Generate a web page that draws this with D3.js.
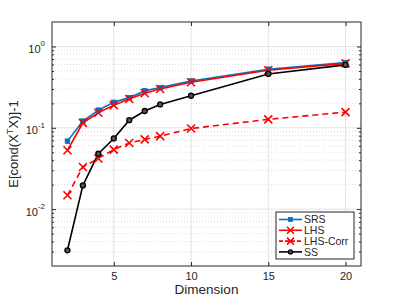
<!DOCTYPE html>
<html>
<head>
<meta charset="utf-8">
<script src="https://cdn.jsdelivr.net/npm/d3@7"></script>
<style>
  body { margin: 0; background: #fff; }
  svg text { font-family: "Liberation Sans", Arial, sans-serif; fill: #262626; }
</style>
</head>
<body>
<div id="chart"></div>
<script>
// data
var dims = [2, 3, 4, 5, 6, 7, 8, 10, 15, 20]
var srs = [0.0686, 0.121, 0.165, 0.206, 0.235, 0.285, 0.312, 0.377, 0.526, 0.635]
var lhs = [0.053, 0.115, 0.153, 0.19, 0.226, 0.266, 0.30, 0.363, 0.51, 0.62]
var lhsCorr = [0.0148, 0.033, 0.042, 0.054, 0.065, 0.072, 0.079, 0.098, 0.127, 0.156]
var ss = [0.00312, 0.0196, 0.048, 0.074, 0.124, 0.161, 0.194, 0.248, 0.46, 0.594]
var xTicks = [5, 10, 15, 20]
var yTicks = [1, 0.1, 0.01]
var yTickExp = ["0", "-1", "-2"]

var series = [
  { name: "SRS", values: srs, color: "#0072BD", marker: "square", dash: null },
  { name: "LHS", values: lhs, color: "#FF0000", marker: "x", dash: null },
  { name: "LHS-Corr", values: lhsCorr, color: "#FF0000", marker: "x", dash: "6,4" },
  { name: "SS", values: ss, color: "#000000", marker: "circle", dash: null }
]

var W = 399, H = 299
var margin = { top: 22, right: 38, bottom: 33, left: 52 }
var w = W - margin.left - margin.right
var h = H - margin.top - margin.bottom

var svg = d3.select('#chart').append('svg')
  .attr('width', W).attr('height', H)
var g = svg.append('g')
  .attr('transform', 'translate(' + margin.left + ',' + margin.top + ')')

var x = d3.scaleLinear().domain([1, 21]).range([0, w])
var y = d3.scaleLog().domain([0.002, 2]).range([h, 0])

// minor values for the log axis
var minor = []
;[0.001, 0.01, 0.1, 1].forEach(function (d) {
  for (var k = 2; k <= 9; k++) {
    var v = d * k
    if (v > 0.002 && v < 2) minor.push(v)
  }
})

// grid
g.selectAll('line.ymin').data(minor).enter().append('line')
  .attr('x1', 0).attr('x2', w)
  .attr('y1', d => y(d)).attr('y2', d => y(d))
  .attr('stroke', '#d4d4d4').attr('stroke-dasharray', '1,2').attr('stroke-width', 0.8)
g.selectAll('line.ymaj').data(yTicks).enter().append('line')
  .attr('x1', 0).attr('x2', w)
  .attr('y1', d => y(d)).attr('y2', d => y(d))
  .attr('stroke', '#e3e3e3').attr('stroke-width', 1)
g.selectAll('line.xmaj').data(xTicks).enter().append('line')
  .attr('x1', d => x(d)).attr('x2', d => x(d))
  .attr('y1', 0).attr('y2', h)
  .attr('stroke', '#e3e3e3').attr('stroke-width', 1)

// axes with inward ticks
var axCol = '#262626'
var xAxis = g.append('g').attr('transform', 'translate(0,' + h + ')')
  .call(d3.axisBottom(x).tickValues(xTicks).tickSizeInner(-4).tickSizeOuter(0).tickPadding(6))
var xTop = g.append('g')
  .call(d3.axisTop(x).tickValues(xTicks).tickSizeInner(-4).tickSizeOuter(0).tickFormat(''))
var yAxis = g.append('g')
  .call(d3.axisLeft(y).tickValues(yTicks).tickSizeInner(-4).tickSizeOuter(0).tickFormat(''))
var yMinL = g.append('g')
  .call(d3.axisLeft(y).tickValues(minor).tickSizeInner(-2).tickSizeOuter(0).tickFormat(''))
var yRight = g.append('g').attr('transform', 'translate(' + w + ',0)')
  .call(d3.axisRight(y).tickValues(yTicks).tickSizeInner(-4).tickSizeOuter(0).tickFormat(''))
var yMinR = g.append('g').attr('transform', 'translate(' + w + ',0)')
  .call(d3.axisRight(y).tickValues(minor).tickSizeInner(-2).tickSizeOuter(0).tickFormat(''))
;[xAxis, xTop, yAxis, yMinL, yRight, yMinR].forEach(function (a) {
  a.select('.domain').remove()
  a.selectAll('line').attr('stroke', axCol)
})
xAxis.selectAll('text').attr('font-size', 11).attr('fill', axCol)
  .style('font-family', '"Liberation Sans", Arial, sans-serif')

// box
g.append('rect').attr('x', 0).attr('y', 0).attr('width', w).attr('height', h)
  .attr('fill', 'none').attr('stroke', axCol).attr('stroke-width', 1)

// y tick labels 10^n
yTicks.forEach(function (d, i) {
  var t = g.append('text').attr('x', -7).attr('y', y(d) + 6.5)
    .attr('text-anchor', 'end').attr('font-size', 11)
  t.append('tspan').text('10')
  t.append('tspan').attr('dy', -6.5).attr('font-size', 8).text(yTickExp[i])
})

// lines
var line = d3.line().x((d, i) => x(dims[i])).y(d => y(d))
series.forEach(function (s) {
  g.append('path').datum(s.values)
    .attr('d', line).attr('fill', 'none')
    .attr('stroke', s.color).attr('stroke-width', 1.6)
    .attr('stroke-dasharray', s.dash)
})

function drawMarker(sel, type, color, cx, cy, size) {
  if (type === 'square') {
    sel.append('rect').attr('x', cx - size / 2).attr('y', cy - size / 2)
      .attr('width', size).attr('height', size)
      .attr('fill', color).attr('stroke', color).attr('stroke-width', 0.8)
  } else if (type === 'x') {
    sel.append('path')
      .attr('d', 'M' + (cx - size / 2) + ',' + (cy - size / 2) + 'L' + (cx + size / 2) + ',' + (cy + size / 2) +
        'M' + (cx - size / 2) + ',' + (cy + size / 2) + 'L' + (cx + size / 2) + ',' + (cy - size / 2))
      .attr('stroke', color).attr('stroke-width', 1.6).attr('fill', 'none')
  } else {
    sel.append('circle').attr('cx', cx).attr('cy', cy).attr('r', size / 2)
      .attr('fill', '#555').attr('stroke', color).attr('stroke-width', 1.3)
  }
}
var msize = { square: 4.5, x: 8, circle: 5 }
series.forEach(function (s) {
  var mg = g.append('g')
  s.values.forEach(function (v, i) {
    drawMarker(mg, s.marker, s.color, x(dims[i]), y(v), msize[s.marker])
  })
})

// axis labels
svg.append('text').attr('x', margin.left + w / 2).attr('y', 294)
  .attr('text-anchor', 'middle').attr('font-size', 13.5).text('Dimension')
var yl = svg.append('text')
  .attr('transform', 'translate(18,' + (margin.top + h / 2) + ') rotate(-90)')
  .attr('text-anchor', 'middle').attr('font-size', 13)
yl.append('tspan').text('E[cond(X')
yl.append('tspan').attr('dy', -5.5).attr('font-size', 9.5).text('T')
yl.append('tspan').attr('dy', 5.5).text('X)]-1')

// legend
var lg = svg.append('g').attr('transform', 'translate(276,212)')
lg.append('rect').attr('width', 78).attr('height', 47)
  .attr('fill', '#fff').attr('stroke', axCol).attr('stroke-width', 1)
series.forEach(function (s, i) {
  var ly = 7.5 + i * 10.8
  lg.append('line').attr('x1', 3).attr('x2', 26).attr('y1', ly).attr('y2', ly)
    .attr('stroke', s.color).attr('stroke-width', 1.6)
    .attr('stroke-dasharray', s.dash ? '4,2' : null)
  drawMarker(lg, s.marker, s.color, 14.5, ly, s.marker === 'x' ? 7 : 4)
  lg.append('text').attr('x', 28).attr('y', ly + 3.8).attr('font-size', 10.5).text(s.name)
})
</script>
</body>
</html>
